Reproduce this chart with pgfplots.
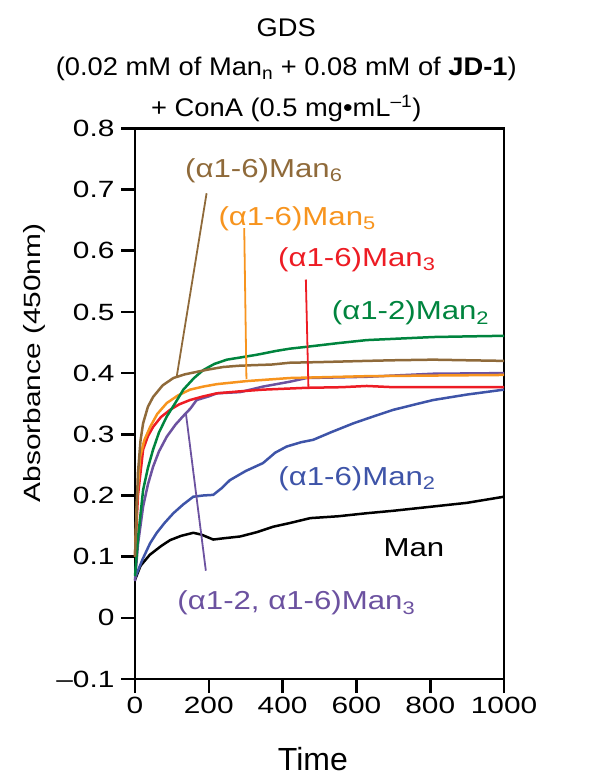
\documentclass[border=0pt]{standalone}
\usepackage{fontspec}
\usepackage{graphicx}
\setmainfont{Liberation Sans}[FakeStretch=1.27]
\newfontfamily\plainfont{Liberation Sans}
\newfontfamily\annfont{Liberation Sans}[FakeStretch=1.2]
\newfontfamily\titfont{Liberation Sans}[FakeStretch=1.07]
\usepackage{pgfplots}
\pgfplotsset{compat=1.18}
\definecolor{cbrown}{RGB}{143,106,58}
\definecolor{corange}{RGB}{247,148,30}
\definecolor{cred}{RGB}{237,28,36}
\definecolor{cgreen}{RGB}{0,132,62}
\definecolor{cblue}{RGB}{62,84,168}
\definecolor{cpurple}{RGB}{108,82,160}
\newcommand{\tickfont}{\fontsize{23.5bp}{28bp}\selectfont}
\newcommand{\tl}[1]{\mbox{\plainfont\fontsize{23.5bp}{28bp}\selectfont\scalebox{1.27}[1]{#1}}}
\newcommand{\titlefont}{\titfont\fontsize{25.5bp}{30bp}\selectfont}
\newcommand{\afont}{\annfont\fontsize{26bp}{30bp}\selectfont}
\begin{document}
\begin{tikzpicture}
\begin{axis}[
  scale only axis, width=369bp, height=550.6bp,
  xmin=0, xmax=1000, ymin=-0.1, ymax=0.8,
  clip=false,
  axis line style={line width=2.6bp},
  tick align=outside, xtick pos=left, ytick pos=left,
  major tick length=14bp,
  every tick/.style={black, line width=2.6bp},
  xtick={0,200,400,600,800,1000},
  xticklabels={\tl{0},\tl{200},\tl{400},\tl{600},\tl{800},\tl{1000}},
  ytick={-0.1,0,0.1,0.2,0.3,0.4,0.5,0.6,0.7,0.8},
  yticklabels={\tl{\textendash0.1},\tl{0},\tl{0.1},\tl{0.2},\tl{0.3},\tl{0.4},\tl{0.5},\tl{0.6},\tl{0.7},\tl{0.8}},
  tick label style={font=\tickfont},
  yticklabel style={xshift=-3bp},
  xticklabel style={yshift=-1bp},
  xlabel={Time},
  xlabel style={font=\plainfont\fontsize{32bp}{36bp}\selectfont, at={(axis description cs:0.482,-0.146)}, anchor=center},
  ylabel={Absorbance (450nm)},
  ylabel style={font=\tickfont, at={(axis description cs:-0.272,0.574)}, anchor=center, rotate=0},
]
% Man (black)
\addplot[black, line width=2.5bp] coordinates {
(0,0.062) (15,0.085) (40,0.103) (70,0.117) (95,0.127) (125,0.134) (158,0.139) (180,0.136) (212,0.128) (240,0.130) (285,0.133) (330,0.140) (375,0.149) (420,0.155) (475,0.163) (550,0.166) (628,0.171) (700,0.175) (808,0.182) (900,0.188) (1000,0.198)};
% (a1-6)Man2 blue
\addplot[cblue, line width=2.5bp] coordinates {
(0,0.065) (20,0.095) (41,0.122) (59,0.139) (80,0.155) (104,0.171) (130,0.185) (158,0.198) (185,0.200) (212,0.201) (235,0.212) (257,0.225) (300,0.240) (347,0.253) (380,0.270) (411,0.280) (450,0.287) (483,0.291) (530,0.303) (592,0.318) (650,0.330) (700,0.340) (760,0.349) (808,0.356) (900,0.365) (1000,0.373)};
% (a1-2,a1-6)Man3 purple
\addplot[cpurple, line width=2.5bp] coordinates {
(0,0.060) (8,0.120) (22,0.182) (35,0.218) (49,0.247) (65,0.272) (86,0.296) (110,0.316) (131,0.330) (150,0.342) (167,0.356) (200,0.362) (222,0.367) (285,0.369) (347,0.378) (420,0.386) (465,0.392) (550,0.393) (628,0.394) (700,0.396) (808,0.399) (1000,0.400)};
% (a1-6)Man3 red
\addplot[cred, line width=2.5bp] coordinates {
(0,0.100) (8,0.200) (22,0.275) (35,0.297) (49,0.312) (70,0.328) (95,0.340) (120,0.349) (149,0.356) (185,0.362) (222,0.367) (280,0.370) (347,0.373) (465,0.376) (560,0.377) (628,0.379) (700,0.377) (808,0.377) (1000,0.377)};
% (a1-6)Man5 orange
\addplot[corange, line width=2.5bp] coordinates {
(0,0.100) (6,0.200) (14,0.263) (25,0.290) (41,0.312) (60,0.333) (86,0.351) (115,0.363) (149,0.373) (185,0.378) (222,0.382) (303,0.387) (420,0.392) (628,0.395) (800,0.396) (1000,0.397)};
% (a1-2)Man2 green
\addplot[cgreen, line width=2.5bp] coordinates {
(0,0.068) (8,0.130) (22,0.209) (35,0.245) (49,0.275) (65,0.303) (86,0.329) (110,0.352) (131,0.373) (160,0.392) (185,0.405) (215,0.415) (249,0.422) (290,0.426) (330,0.430) (380,0.436) (420,0.440) (465,0.443) (550,0.449) (628,0.454) (700,0.456) (808,0.459) (900,0.460) (1000,0.461)};
% (a1-6)Man6 brown
\addplot[cbrown, line width=2.5bp] coordinates {
(0,0.100) (4,0.170) (8,0.237) (15,0.290) (22,0.318) (35,0.345) (49,0.361) (75,0.380) (104,0.392) (135,0.398) (167,0.402) (200,0.406) (239,0.410) (280,0.412) (320,0.413) (370,0.414) (420,0.417) (500,0.418) (628,0.420) (700,0.421) (808,0.422) (900,0.421) (1000,0.420)};
% leader lines
\addplot[cbrown, line width=1.8bp] coordinates {(194,0.694) (113,0.394)};
\addplot[corange, line width=1.8bp] coordinates {(296,0.637) (302,0.390)};
\addplot[cred, line width=1.8bp] coordinates {(463,0.553) (470,0.376)};
\addplot[cpurple, line width=1.8bp] coordinates {(192,0.077) (138,0.334)};
% labels
\node[anchor=base west, inner sep=0pt, text=cbrown, font=\afont] at (axis cs:135.5,0.720) {(α1-6)Man\textsubscript{6}};
\node[anchor=base west, inner sep=0pt, text=corange, font=\afont] at (axis cs:225.8,0.6405) {(α1-6)Man\textsubscript{5}};
\node[anchor=base west, inner sep=0pt, text=cred, font=\afont] at (axis cs:387.5,0.574) {(α1-6)Man\textsubscript{3}};
\node[anchor=base west, inner sep=0pt, text=cgreen, font=\afont] at (axis cs:533,0.487) {(α1-2)Man\textsubscript{2}};
\node[anchor=base west, inner sep=0pt, text=cblue, font=\afont] at (axis cs:388,0.217) {(α1-6)Man\textsubscript{2}};
\node[anchor=base west, inner sep=0pt, text=black, font=\afont] at (axis cs:673,0.100) {Man};
\node[anchor=base west, inner sep=0pt, text=cpurple, font=\afont] at (axis cs:114.6,0.013) {(α1-2, α1-6)Man\textsubscript{3}};
% title
\node[anchor=base, inner sep=0pt, font=\titlefont] at (axis description cs:0.41,1.1667) {GDS};
\node[anchor=base, inner sep=0pt, font=\titlefont] at (axis description cs:0.41,1.0954) {(0.02 mM of Man\textsubscript{n} + 0.08 mM of \textbf{JD-1})};
\node[anchor=base, inner sep=0pt, font=\titlefont] at (axis description cs:0.41,1.021) {+ ConA (0.5 mg\textbullet mL\textsuperscript{\textendash1})};
\coordinate (BL) at (axis cs:-365.85,-0.2618);
\coordinate (TR) at (axis cs:1252,1.0099);
\end{axis}
\pgfresetboundingbox
\path[use as bounding box] (BL) rectangle (TR);
\end{tikzpicture}
\end{document}
